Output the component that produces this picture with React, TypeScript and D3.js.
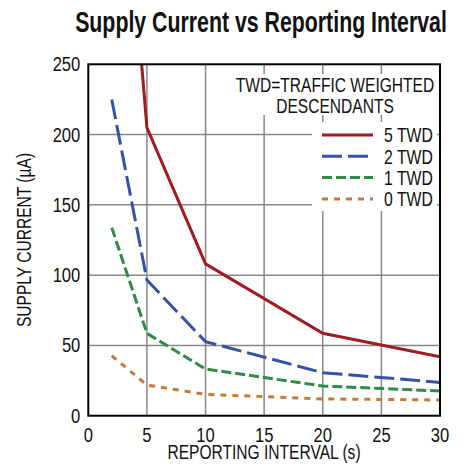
import React from 'react'
import * as d3 from 'd3'

const intervals = [2, 5, 10, 20, 30]
const twd5 = [505, 205, 108, 58.6, 42]
const twd2 = [225, 96.5, 52.7, 30.6, 23.7]
const twd1 = [133.8, 58.6, 33.2, 21.1, 17.6]
const twd0 = [42.7, 21.8, 15.2, 11.9, 11.2]

const xTicks = [0, 5, 10, 15, 20, 25, 30]
const yTicks = [0, 50, 100, 150, 200, 250]

const seriesNames = ['5 TWD', '2 TWD', '1 TWD', '0 TWD']
const seriesValues = [twd5, twd2, twd1, twd0]
const seriesColors = ['#a01c22', '#3352a8', '#2f8a48', '#c87a32']
const seriesDash = ['none', '20,6', '10,4', '6,6']

const font = "'Liberation Sans', Arial, sans-serif"

// condensed text: squeeze horizontally since no condensed face is installed
function T(props: { x: number, y: number, size: number, sx: number, anchor?: string, bold?: boolean, rotate?: number, children: React.ReactNode }) {
  const { x, y, size, sx, anchor = 'start', bold = false, rotate = 0, children } = props
  return (
    <text transform={`translate(${x},${y}) rotate(${rotate}) scale(${sx},1)`} textAnchor={anchor}
      fontFamily={font} fontSize={size} fontWeight={bold ? 'bold' : 'normal'} fill='#111'>{children}</text>
  )
}

export default function App() {
  const width = 466
  const height = 467
  const margin = { top: 64.3, right: 26, bottom: 51.3, left: 88.3 }
  const x = d3.scaleLinear().domain([0, 30]).range([margin.left, width - margin.right])
  const y = d3.scaleLinear().domain([0, 250]).range([height - margin.bottom, margin.top])

  const line = d3.line<[number, number]>()
    .x(d => x(d[0]))
    .y(d => y(d[1]))

  const x0 = x(0), x1 = x(30), y0 = y(0), y1 = y(250)

  return (
    <svg width={width} height={height} style={{ position: 'absolute', left: 0, top: 0, background: '#fff' }}>
      <defs>
        <clipPath id='plot'>
          <rect x={x0} y={y1} width={x1 - x0} height={y0 - y1} />
        </clipPath>
      </defs>

      <T x={261} y={32} size={29} sx={0.735} anchor='middle' bold>Supply Current vs Reporting Interval</T>

      {/* grid */}
      {xTicks.slice(1, -1).map(t => (
        <line key={'gx' + t} x1={x(t)} x2={x(t)} y1={y1} y2={y0} stroke='#888' strokeWidth={1.5} />
      ))}
      {yTicks.slice(1, -1).map(t => (
        <line key={'gy' + t} x1={x0} x2={x1} y1={y(t)} y2={y(t)} stroke='#888' strokeWidth={1.5} />
      ))}

      {/* text backgrounds hide the grid */}
      <rect x={236} y={74} width={200} height={41} fill='#fff' />
      <rect x={312} y={122} width={125} height={89} fill='#fff' />

      <T x={335} y={91.5} size={20.5} sx={0.76} anchor='middle'>TWD=TRAFFIC WEIGHTED</T>
      <T x={335} y={112.5} size={20.5} sx={0.76} anchor='middle'>DESCENDANTS</T>

      {/* series */}
      <g clipPath='url(#plot)'>
        {seriesValues.map((vals, i) => (
          <path key={seriesNames[i]} d={line(intervals.map((v, j) => [v, vals[j]] as [number, number])) || ''}
            fill='none' stroke={seriesColors[i]} strokeWidth={3} strokeDasharray={seriesDash[i]} />
        ))}
      </g>

      {/* legend */}
      {seriesNames.map((name, i) => (
        <g key={'lg' + name} transform={`translate(0, ${135 + i * 21.3})`}>
          <line x1={322} x2={373} y1={0} y2={0} stroke={seriesColors[i]} strokeWidth={3}
            strokeDasharray={seriesDash[i]} />
          <T x={384} y={7.2} size={20} sx={0.79}>{name}</T>
        </g>
      ))}

      {/* frame */}
      <rect x={x0} y={y1} width={x1 - x0} height={y0 - y1} fill='none' stroke='#000' strokeWidth={2} />

      {/* tick labels */}
      {yTicks.map(t => (
        <T key={'yt' + t} x={x0 - 8} y={y(t) + 7} size={19.5} sx={0.85} anchor='end'>{t}</T>
      ))}
      {xTicks.map(t => (
        <T key={'xt' + t} x={x(t)} y={442} size={19.5} sx={0.85} anchor='middle'>{t}</T>
      ))}

      <T x={264} y={459} size={20.5} sx={0.76} anchor='middle'>REPORTING INTERVAL (s)</T>
      <T x={31} y={240} size={20.5} sx={0.76} anchor='middle' rotate={-90}>SUPPLY CURRENT (µA)</T>
    </svg>
  )
}
